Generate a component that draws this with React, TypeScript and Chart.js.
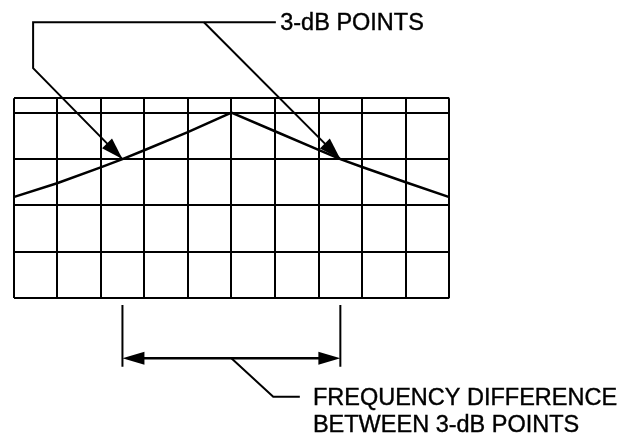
import React, { useEffect, useRef } from "react";
import { Chart, registerables } from "chart.js";

Chart.register(...registerables);

// Frequency axis divisions (graticule columns) and response curve
const freqValues = [0, 1, 2, 2.5, 3, 4, 5, 6, 7, 7.5, 8, 9, 10];
const responseValues = [2.18, 2.48, 2.82, 3.0, 3.19, 3.58, 4.0, 3.6, 3.2, 3.0, 2.83, 2.5, 2.18];
const threeDbX = [2.5, 7.5];
const threeDbY = 3;
const topLabel = "3-dB POINTS";
const bottomLabel = ["FREQUENCY DIFFERENCE", "BETWEEN 3-dB POINTS"];

// annotation geometry in data units
const topLeaderY = 5.95;
const leftElbow = { x: 0.45, y: 4.96 };
const rightLeaderStartX = 4.37;
const topLeaderEndX = 6.02;
const topLabelPos = { x: 6.12, y: 5.78 };
const extTopY = -0.144;
const extBottomY = -1.474;
const spanArrowY = -1.293;
const bottomLeader = [
  { x: 5.0, y: -1.293 },
  { x: 5.96, y: -2.12 },
  { x: 6.57, y: -2.12 },
];
const bottomLabelPos = { x: 6.87, y: [-2.3, -2.875] };

function arrowHead(ctx: CanvasRenderingContext2D, fx: number, fy: number, tx: number, ty: number, len: number, half: number) {
  const a = Math.atan2(ty - fy, tx - fx);
  const bx = tx - len * Math.cos(a);
  const by = ty - len * Math.sin(a);
  ctx.beginPath();
  ctx.moveTo(tx, ty);
  ctx.lineTo(bx + half * Math.sin(a), by - half * Math.cos(a));
  ctx.lineTo(bx - half * Math.sin(a), by + half * Math.cos(a));
  ctx.closePath();
  ctx.fill();
}

const annotationPlugin = {
  id: "annot",
  afterDraw(chart: any) {
    const ctx: CanvasRenderingContext2D = chart.ctx;
    const xs = chart.scales.x;
    const ys = chart.scales.y;
    const X = (v: number) => xs.getPixelForValue(v);
    const Y = (v: number) => ys.getPixelForValue(v);
    ctx.save();
    ctx.strokeStyle = "#000";
    ctx.fillStyle = "#000";
    ctx.lineWidth = 2;
    ctx.lineJoin = "miter";

    // top leader
    const lx = X(threeDbX[0]);
    const rx = X(threeDbX[1]);
    const py = Y(threeDbY);
    ctx.beginPath();
    ctx.moveTo(X(topLeaderEndX), Y(topLeaderY));
    ctx.lineTo(X(leftElbow.x), Y(topLeaderY));
    ctx.lineTo(X(leftElbow.x), Y(leftElbow.y));
    ctx.lineTo(lx, py);
    ctx.stroke();
    arrowHead(ctx, X(leftElbow.x), Y(leftElbow.y), lx, py, 22, 7);

    ctx.beginPath();
    ctx.moveTo(X(rightLeaderStartX), Y(topLeaderY));
    ctx.lineTo(rx, py);
    ctx.stroke();
    arrowHead(ctx, X(rightLeaderStartX), Y(topLeaderY), rx, py, 22, 7);

    ctx.font = "23.5px 'Liberation Sans', Arial, sans-serif";
    ctx.textBaseline = "alphabetic";
    ctx.textAlign = "left";
    ctx.lineWidth = 0.4;
    ctx.fillText(topLabel, X(topLabelPos.x), Y(topLabelPos.y));
    ctx.strokeText(topLabel, X(topLabelPos.x), Y(topLabelPos.y));

    // bottom span
    ctx.lineWidth = 2;
    ctx.beginPath();
    ctx.moveTo(lx, Y(extTopY));
    ctx.lineTo(lx, Y(extBottomY));
    ctx.moveTo(rx, Y(extTopY));
    ctx.lineTo(rx, Y(extBottomY));
    ctx.stroke();
    ctx.lineWidth = 2.5;
    ctx.beginPath();
    ctx.moveTo(lx + 10, Y(spanArrowY));
    ctx.lineTo(rx - 10, Y(spanArrowY));
    ctx.stroke();
    arrowHead(ctx, rx, Y(spanArrowY), lx, Y(spanArrowY), 22, 6.5);
    arrowHead(ctx, lx, Y(spanArrowY), rx, Y(spanArrowY), 22, 6.5);
    ctx.lineWidth = 2;
    ctx.beginPath();
    bottomLeader.forEach((p, i) => (i === 0 ? ctx.moveTo(X(p.x), Y(p.y)) : ctx.lineTo(X(p.x), Y(p.y))));
    ctx.stroke();
    ctx.lineWidth = 0.4;
    bottomLabel.forEach((t, i) => {
      ctx.fillText(t, X(bottomLabelPos.x), Y(bottomLabelPos.y[i]));
      ctx.strokeText(t, X(bottomLabelPos.x), Y(bottomLabelPos.y[i]));
    });
    ctx.restore();
  },
};

export default function App() {
  const ref = useRef<HTMLCanvasElement | null>(null);
  useEffect(() => {
    if (!ref.current) return;
    const chart = new Chart(ref.current, {
      type: "line",
      data: {
        datasets: [
          {
            data: freqValues.map((f, i) => ({ x: f, y: responseValues[i] })),
            borderColor: "#000",
            borderWidth: 2.5,
            pointRadius: 0,
            tension: 0,
            fill: false,
          },
        ],
      },
      options: {
        animation: false,
        responsive: true,
        maintainAspectRatio: false,
        layout: { padding: { left: 13.5, top: 98.3, right: 168.7, bottom: 137.7 } },
        plugins: { legend: { display: false }, tooltip: { enabled: false } },
        scales: {
          x: {
            type: "linear",
            min: 0,
            max: 10,
            ticks: { display: false, stepSize: 1 },
            grid: { color: "#000", lineWidth: 2, drawTicks: false },
            border: { display: false },
          },
          y: {
            type: "linear",
            min: 0,
            max: 4.31,
            ticks: { display: false, stepSize: 1 },
            grid: { color: "#000", lineWidth: 2, drawTicks: false },
            border: { display: false },
          },
        },
      },
      plugins: [annotationPlugin],
    });
    return () => chart.destroy();
  }, []);
  return (
    <div style={{ position: "fixed", left: 0, top: 0, width: 618, height: 436, background: "#fff" }}>
      <canvas ref={ref} />
    </div>
  );
}
